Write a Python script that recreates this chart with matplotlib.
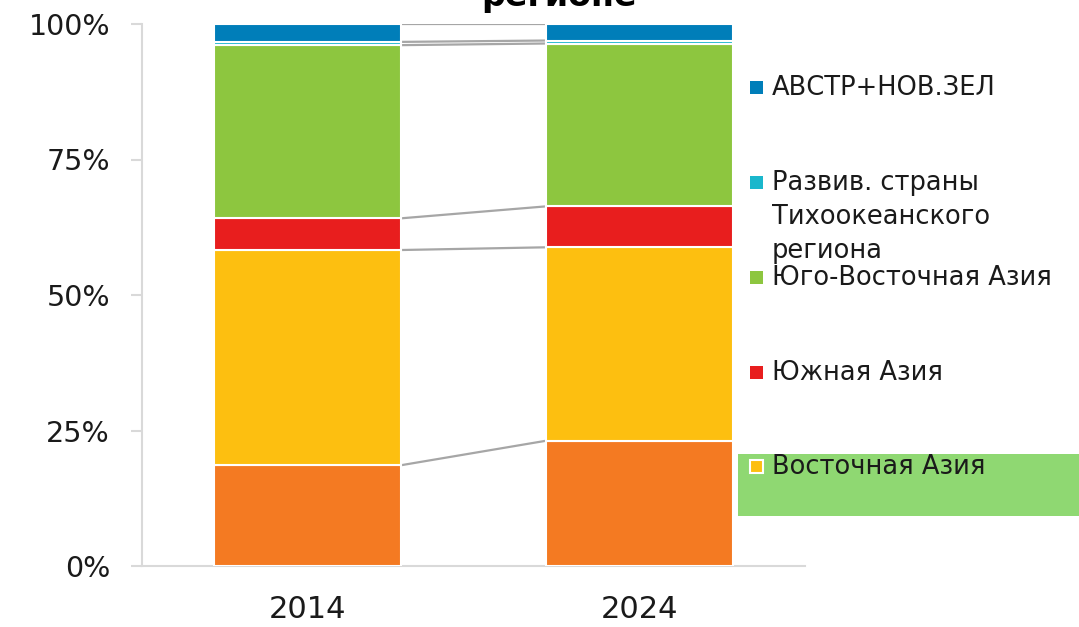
import matplotlib
matplotlib.use('Agg')
import matplotlib.pyplot as plt
from matplotlib.patches import Rectangle
import numpy as np

# ---------------- data ----------------
years = ['2014', '2024']
series_names = ['Прочие', 'Восточная Азия', 'Южная Азия', 'Юго-Восточная Азия',
                'Развив. страны\nТихоокеанского\nрегиона', 'АВСТР+НОВ.ЗЕЛ']
other = [18.6, 23.1]
east_asia = [39.7, 35.7]
south_asia = [5.85, 7.55]
southeast_asia = [31.95, 30.05]
pacific_dev = [0.6, 0.55]
aus_nz = [3.3, 3.05]
colors = ['#F47A22', '#FDBF10', '#E81E1E', '#8DC63F', '#1AB7CC', '#007EB9']
yticks = [0, 25, 50, 75, 100]
ytick_labels = ['0%', '25%', '50%', '75%', '100%']
title_text = 'регионе'
legend_order = [5, 4, 3, 2, 1]  # series shown in legend (top to bottom)

plt.rcParams['font.family'] = ['DejaVu Sans']

W, H = 1079, 627
fig = plt.figure(figsize=(W / 100, H / 100), dpi=100)


def fx(x):
    return x / W


def fy(y):
    return 1 - y / H


ax = fig.add_axes([fx(142), fy(566), (805 - 142) / W, (566 - 24) / H])

series = [other, east_asia, south_asia, southeast_asia, pacific_dev, aus_nz]
x = np.arange(len(years))
bar_w = 0.564
bottom = np.zeros(len(years))
cum_tops = []
for vals, col in zip(series, colors):
    vals = np.array(vals, dtype=float)
    ax.bar(x, vals, bar_w, bottom=bottom, color=col, edgecolor='white',
           linewidth=1.5, zorder=3)
    bottom = bottom + vals
    cum_tops.append(bottom.copy())

# series lines
for top in cum_tops:
    ax.plot([x[0] + bar_w / 2, x[1] - bar_w / 2], [top[0], top[1]],
            color='#A6A6A6', lw=1.6, zorder=2, solid_capstyle='butt')

ax.set_xlim(-0.5, 1.5)
ax.set_ylim(0, 100)
ax.set_yticks(yticks)
ax.set_yticklabels(ytick_labels)
ax.set_xticks(x)
ax.set_xticklabels(years)
for s in ['top', 'right']:
    ax.spines[s].set_visible(False)
for s in ['left', 'bottom']:
    ax.spines[s].set_color('#D9D9D9')
    ax.spines[s].set_linewidth(1.5)
ax.tick_params(axis='y', length=8, width=1.5, color='#D9D9D9', pad=15,
               labelsize=20.5, labelcolor='#1a1a1a')
ax.tick_params(axis='x', length=0, pad=21, labelsize=22, labelcolor='#1a1a1a')

# title (cut at top, as in the source image)
fig.text(fx(559), fy(6), title_text, ha='center', va='baseline',
         fontsize=24, fontweight='bold', color='black')

# legend (manual)
fig.add_artist(Rectangle((fx(738), fy(516)), (W - 738) / W, (516 - 454) / H,
                         transform=fig.transFigure, color='#8FD872', lw=0))
legend_y = [88, 183, 278, 373, 467]
line_gap = 34
for idx, yc in zip(legend_order, legend_y):
    ec = 'white' if idx == 1 else 'none'
    fig.add_artist(Rectangle((fx(750), fy(yc + 6)), 13 / W, 13 / H,
                             transform=fig.transFigure, facecolor=colors[idx],
                             edgecolor=ec, lw=1.5))
    for k, line in enumerate(series_names[idx].split('\n')):
        fig.text(fx(772), fy(yc + k * line_gap), line, ha='left', va='center',
                 fontsize=18.5, color='#1a1a1a')

fig.savefig('out.png', dpi=100)
